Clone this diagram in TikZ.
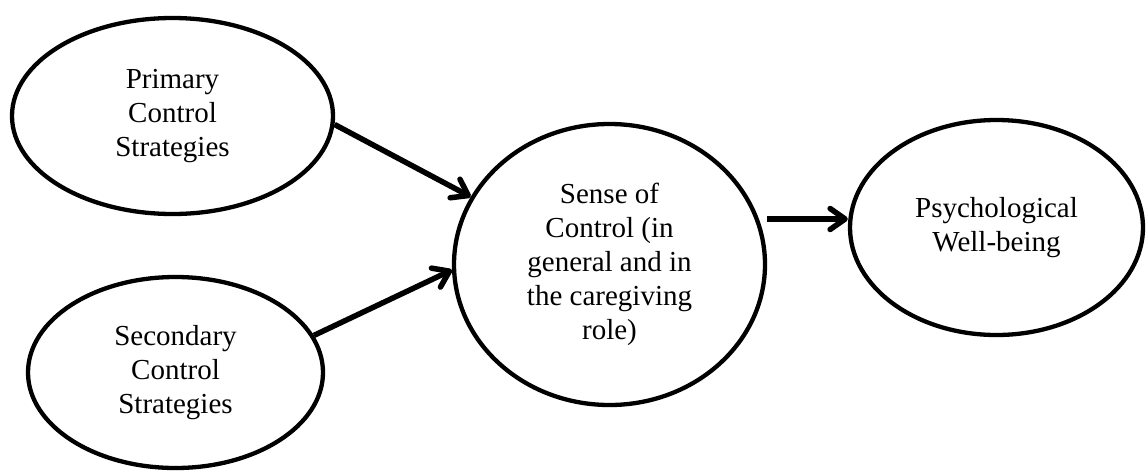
\documentclass[tikz,border=0pt]{standalone}
\usepackage{fontspec}
\setmainfont{Liberation Serif}
\usetikzlibrary{arrows.meta,positioning,shapes.geometric}
\tikzset{
  factor/.style={ellipse,draw=black,line width=4.3pt,inner sep=0pt,
    align=center,font=\fontsize{29}{34}\selectfont},
  arrow/.style={-{Straight Barb[length=15pt,width=21pt,round]},line width=5.5pt,black}
}

\begin{document}
\begin{tikzpicture}[x=1pt,y=-1pt]
      \useasboundingbox (0,0) rectangle (1147,474);
      \node[factor,minimum width=321pt,minimum height=196pt] (primary)
        at (172.5,116) {Primary\\Control\\Strategies};
      \node[factor,minimum width=295pt,minimum height=191pt] (secondary)
        at (175.5,372.5) {Secondary\\Control\\Strategies};
      \node[factor,minimum width=311pt,minimum height=281pt] (sense)
        at (609.5,264.5)
        {Sense of\\Control (in\\general and in\\the caregiving\\role)};
      \node[factor,minimum width=293pt,minimum height=215pt] (wellbeing)
        at (996.5,227.5) {Psychological\\Well-being};

      \draw[arrow] (primary.-3) -- (sense.154);
      \draw[arrow] (secondary.15) -- (sense.182);
      \draw[arrow] ([yshift=8.5pt]wellbeing.west -| sense.east)
        -- ([yshift=8.5pt]wellbeing.west);
    \end{tikzpicture}
\end{document}
